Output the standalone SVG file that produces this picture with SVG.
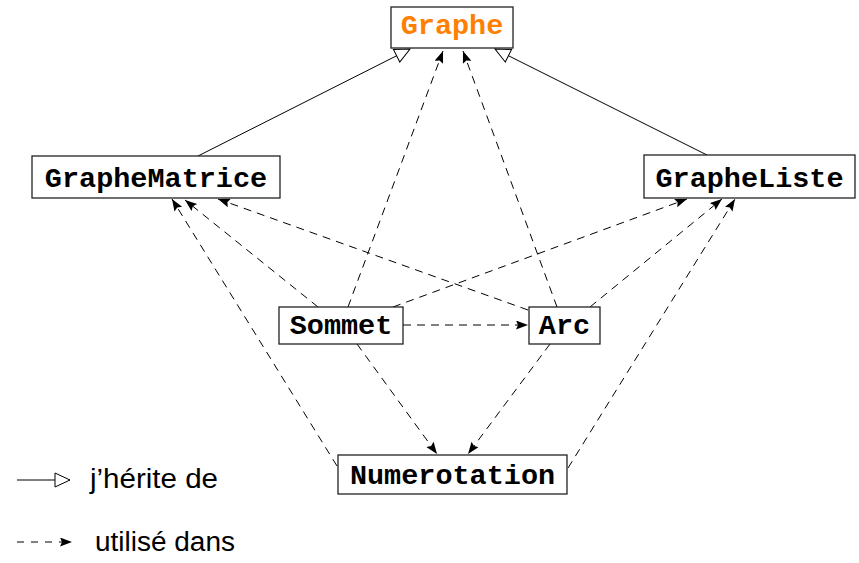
<svg xmlns="http://www.w3.org/2000/svg" width="859" height="563" viewBox="0 0 859 563">
<style>
.box{fill:#fff;stroke:#222;stroke-width:1.3}
.lbl{font-family:"Liberation Mono","Courier New",monospace;font-weight:bold;font-size:28.5px;text-anchor:middle;fill:#000}
.inh{stroke:#000;stroke-width:1;fill:none;marker-end:url(#tri)}
.use{stroke:#000;stroke-width:1;fill:none;stroke-dasharray:8,6;marker-end:url(#arr)}
.leg{font-family:"Liberation Sans",Arial,sans-serif;font-size:27px;fill:#000}
</style>
<defs>
<marker id="tri" markerUnits="userSpaceOnUse" markerWidth="20" markerHeight="18" refX="16" refY="8" orient="auto">
<path d="M1,1 L16,8 L1,15 z" fill="#fff" stroke="#000" stroke-width="1"/>
</marker>
<marker id="arr" markerUnits="userSpaceOnUse" markerWidth="14" markerHeight="10" refX="12" refY="4.5" orient="auto">
<path d="M0,0 L12,4.5 L0,9 L2,4.5 z" fill="#000"/>
</marker>
</defs>
<rect width="859" height="563" fill="#fff"/>
<g id="connectors">
<line class="inh" x1="198" y1="156" x2="410" y2="49"/>
<line class="inh" x1="707" y1="155" x2="495" y2="49"/>
<line class="use" x1="348" y1="307" x2="443" y2="51"/>
<line class="use" x1="557" y1="307" x2="463" y2="51"/>
<line class="use" x1="318" y1="307" x2="185" y2="200"/>
<line class="use" x1="528" y1="310" x2="218" y2="199"/>
<line class="use" x1="337" y1="466" x2="172" y2="199"/>
<line class="use" x1="393" y1="307" x2="687" y2="199"/>
<line class="use" x1="590" y1="307" x2="722" y2="199"/>
<line class="use" x1="568" y1="468" x2="735" y2="199"/>
<line class="use" x1="403" y1="325" x2="528" y2="325"/>
<line class="use" x1="357" y1="344" x2="437" y2="454"/>
<line class="use" x1="550" y1="344" x2="468" y2="454"/>
</g>
<g id="Graphe">
<rect class="box" x="391" y="7" width="122" height="41"/>
<text class="lbl" x="452" y="34" style="fill:#ff8000">Graphe</text>
</g>
<g id="GrapheMatrice">
<rect class="box" x="32" y="156" width="248" height="42"/>
<text class="lbl" x="156" y="187">GrapheMatrice</text>
</g>
<g id="GrapheListe">
<rect class="box" x="644" y="155" width="211" height="43"/>
<text class="lbl" x="749.5" y="187">GrapheListe</text>
</g>
<g id="Sommet">
<rect class="box" x="279" y="307" width="124" height="37"/>
<text class="lbl" x="341" y="334">Sommet</text>
</g>
<g id="Arc">
<rect class="box" x="529" y="307" width="71" height="37"/>
<text class="lbl" x="564.5" y="334">Arc</text>
</g>
<g id="Numerotation">
<rect class="box" x="338" y="455" width="229" height="39"/>
<text class="lbl" x="452.5" y="484">Numerotation</text>
</g>
<g id="legend">
<line class="inh" x1="17" y1="480" x2="70" y2="480"/>
<text class="leg" x="90" y="488" textLength="128" lengthAdjust="spacingAndGlyphs">j’hérite de</text>
<line class="use" x1="17" y1="542" x2="72" y2="542" style="stroke-dasharray:7,7"/>
<text class="leg" x="95" y="551" textLength="140" lengthAdjust="spacingAndGlyphs">utilisé dans</text>
</g>
</svg>
